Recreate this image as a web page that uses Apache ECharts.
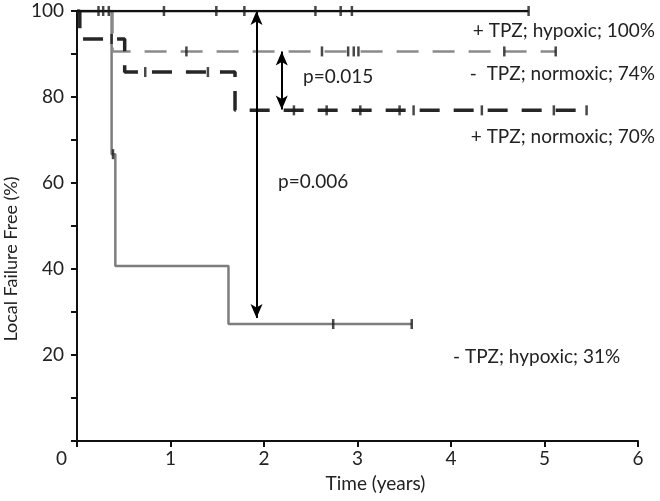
<!DOCTYPE html>
<html lang="en">
<head>
    <meta charset="UTF-8">
    <title>Local Failure Free</title>
    <script src="https://cdn.jsdelivr.net/npm/echarts@6/dist/echarts.min.js"></script>
    <style>
        body { margin: 0; background: #fff; }
    </style>
</head>
<body>
    <div id="main" style="width: 660px;height:501px;"></div>
    <script>
        // step points [time, percent] and censor times
        var tpzHypoxicSteps = [[0, 100], [4.83, 100]];
        var tpzHypoxicCensor = [0.23, 0.28, 0.34, 0.93, 1.49, 1.79, 2.55, 2.82, 2.94, 4.83];

        var noTpzNormoxicSteps = [[0, 100], [0.38, 90.6], [5.12, 90.6]];
        var noTpzNormoxicCensor = [1.17, 2.62, 2.90, 2.96, 3.01, 4.57, 5.12];

        var tpzNormoxicSteps = [[0, 100], [0.03, 93.5], [0.51, 85.8], [1.69, 76.9], [5.45, 76.9]];
        var tpzNormoxicCensor = [0.37, 0.73, 1.40, 2.32, 2.67, 3.03, 3.45, 3.60, 4.33, 5.10, 5.45];

        var noTpzHypoxicSteps = [[0, 100], [0.37, 66.7], [0.41, 40.7], [1.62, 27.2], [3.58, 27.2]];
        var noTpzHypoxicCensor = [0.385, 2.74, 3.58];

        // double arrows: [time, top, bottom]
        var arrowLong = [1.92, 100, 28.6];
        var arrowShort = [2.19, 90.6, 77.1];

        var xTicks = [0, 1, 2, 3, 4, 5, 6];
        var yTicks = [20, 40, 60, 80, 100];

        var font = 'Lato';
        var txt = '19px ' + font;

        // survival value at time t (step function)
        function valueAt(steps, t) {
            var v = steps[0][1];
            for (var i = 0; i < steps.length; i++) {
                if (steps[i][0] <= t) v = steps[i][1];
            }
            return v;
        }
        function censorPoints(steps, times) {
            return times.map(function (t) { return [t, valueAt(steps, t)]; });
        }
        function arrowLine(a) {
            return [[{ coord: [a[0], a[1]] }, { coord: [a[0], a[2]] }]];
        }
        function stepSeries(name, steps, color, width, dash, z) {
            return {
                name: name,
                type: 'line',
                step: 'end',
                symbol: 'none',
                z: z,
                lineStyle: { color: color, width: width, type: dash },
                data: steps
            };
        }
        function censorSeries(steps, times, z) {
            return {
                type: 'scatter',
                symbol: 'rect',
                symbolSize: [2.5, 10],
                z: z,
                itemStyle: { color: '#1a1a1a' },
                data: censorPoints(steps, times)
            };
        }

        var myChart = echarts.init(document.getElementById('main'));
        var option = {
            animation: false,
            backgroundColor: '#fff',
            textStyle: { fontFamily: font },
            grid: { left: 77, right: 22, top: 11, bottom: 60, containLabel: false, outerBoundsMode: 'none' },
            xAxis: {
                type: 'value',
                min: 0,
                max: 6,
                interval: 1,
                splitLine: { show: false },
                axisLine: { lineStyle: { color: '#111', width: 2 } },
                axisTick: { length: 6, lineStyle: { color: '#111', width: 2 } },
                axisLabel: {
                    color: '#222', fontSize: 19, margin: 8,
                    formatter: function (v) { return (v === 0 || xTicks.indexOf(v) < 0) ? '' : String(v); }
                },
                name: 'Time (years)',
                nameLocation: 'middle',
                nameGap: 33,
                nameTextStyle: { color: '#222', fontSize: 19, padding: [0, 0, 0, 36] }
            },
            yAxis: {
                type: 'value',
                min: 0,
                max: 100,
                interval: 10,
                splitLine: { show: false },
                axisLine: { lineStyle: { color: '#111', width: 2 } },
                axisTick: { length: 6, lineStyle: { color: '#111', width: 2 } },
                axisLabel: {
                    color: '#222', fontSize: 19, margin: 13,
                    formatter: function (v) { return yTicks.indexOf(v) >= 0 ? String(v) : ''; }
                },
                name: 'Local Failure Free (%)',
                nameLocation: 'middle',
                nameGap: 53,
                nameTextStyle: { color: '#222', fontSize: 18, padding: [0, 66, 0, 0] }
            },
            series: [
                stepSeries('- TPZ; hypoxic', noTpzHypoxicSteps, '#7d7d7d', 2.5, 'solid', 2),
                stepSeries('- TPZ; normoxic', noTpzNormoxicSteps, '#8a8a8a', 2.5, [22, 14], 3),
                stepSeries('+ TPZ; normoxic', tpzNormoxicSteps, '#262626', 3.5, [20, 14], 4),
                stepSeries('+ TPZ; hypoxic', tpzHypoxicSteps, '#111', 2.5, 'solid', 5),
                censorSeries(noTpzHypoxicSteps, noTpzHypoxicCensor, 6),
                censorSeries(noTpzNormoxicSteps, noTpzNormoxicCensor, 6),
                censorSeries(tpzNormoxicSteps, tpzNormoxicCensor, 6),
                censorSeries(tpzHypoxicSteps, tpzHypoxicCensor, 6),
                {
                    type: 'line',
                    data: [],
                    markLine: {
                        silent: true,
                        symbol: ['arrow', 'arrow'],
                        symbolSize: [9, 14],
                        label: { show: false },
                        lineStyle: { color: '#000', width: 2, type: 'solid' },
                        data: arrowLine(arrowLong).concat(arrowLine(arrowShort))
                    }
                }
            ],
            graphic: [
                { type: 'text', left: 56, top: 449, style: { text: '0', font: txt, fill: '#222' } },
                { type: 'text', left: 303, top: 67, style: { text: 'p=0.015', font: txt, fill: '#222' } },
                { type: 'text', left: 278, top: 172, style: { text: 'p=0.006', font: txt, fill: '#222' } },
                { type: 'text', right: 5, top: 21, style: { text: '+ TPZ; hypoxic; 100%', font: txt, fill: '#222' } },
                { type: 'text', right: 5, top: 64, style: { text: '-  TPZ; normoxic; 74%', font: txt, fill: '#222' } },
                { type: 'text', right: 5, top: 127, style: { text: '+ TPZ; normoxic; 70%', font: txt, fill: '#222' } },
                { type: 'text', left: 453, top: 347, style: { text: '- TPZ; hypoxic; 31%', font: txt, fill: '#222' } }
            ]
        };
        myChart.setOption(option);
    </script>
</body>
</html>
